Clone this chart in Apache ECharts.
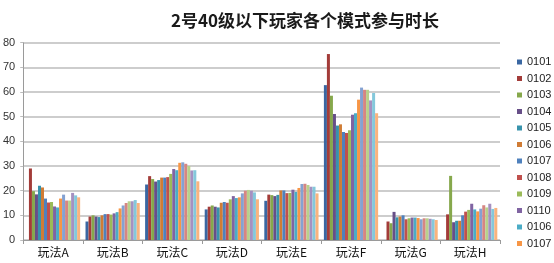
<!DOCTYPE html>
<html>
<head>
<meta charset="utf-8">
<script src="https://cdn.jsdelivr.net/npm/echarts@6/dist/echarts.min.js"></script>
<style>html,body{margin:0;padding:0;background:#fff}#c{width:554px;height:263px}</style>
</head>
<body>
<div id="c"></div>
<script>
const categories = ['玩法A','玩法B','玩法C','玩法D','玩法E','玩法F','玩法G','玩法H'];
const yTicks = [0,10,20,30,40,50,60,70,80];
const legendLabels = ['0101','0102','0103','0104','0105','0106','0107','0108','0109','0110','0106','0107'];
const s01 = [null, 7.5, 22.5, 12.4, 15.9, 62.8, null, null];
const s02 = [29.0, 9.5, 25.9, 13.5, 18.4, 75.4, 7.5, 10.4];
const s03 = [19.8, 10.0, 24.7, 14.0, 18.2, 58.5, 6.8, 26.0];
const s04 = [18.5, 9.5, 23.7, 13.5, 17.8, 51.1, 11.4, 7.2];
const s05 = [22.0, 9.3, 24.3, 13.2, 18.3, 46.4, 9.2, 7.8];
const s06 = [21.3, 10.0, 25.3, 15.1, 20.1, 46.9, 9.5, 7.8];
const s07 = [16.8, 10.5, 25.3, 15.4, 20.1, 43.8, 10.0, 10.0];
const s08 = [15.2, 10.5, 25.5, 15.1, 19.0, 43.4, 8.4, 11.5];
const s09 = [15.4, 10.3, 26.8, 16.5, 19.1, 44.5, 8.8, 12.2];
const s10 = [13.6, 10.8, 28.8, 17.8, 20.4, 50.8, 9.1, 14.7];
const s11 = [13.2, 11.3, 28.3, 17.0, 19.5, 51.4, 9.1, 12.4];
const s12 = [16.8, 12.8, 31.3, 17.3, 21.1, 56.9, 8.9, 11.6];
const s13 = [18.4, 14.0, 31.5, 18.9, 22.7, 61.8, 8.4, 12.7];
const s14 = [16.0, 15.0, 30.9, 20.0, 22.8, 60.9, 8.8, 14.1];
const s15 = [16.0, 15.7, 30.0, 20.3, 22.3, 60.9, 8.8, 13.2];
const s16 = [19.1, 15.7, 28.2, 20.0, 21.6, 56.6, 8.6, 14.7];
const s17 = [18.1, 16.2, 28.3, 19.3, 21.6, 59.6, 8.4, 12.6];
const s18 = [17.3, 15.0, 23.8, 16.5, 18.9, 51.4, 8.1, 13.0];
const seriesData = [s01,s02,s03,s04,s05,s06,s07,s08,s09,s10,s11,s12,s13,s14,s15,s16,s17,s18];
const colors = ['#3A67A2','#A33C39','#86A84C','#674F88','#3893AC','#D07C35',
                '#4F81BD','#C0504D','#9BBB59','#8064A2','#4BACC6','#F79646',
                '#84A2D2','#D68683','#B8D18B','#A591C1','#84C8DB','#F9B37E'];
const keys = seriesData.map((_, i) => 'k' + (i + 1));

const chart = echarts.init(document.getElementById('c'));
chart.setOption({
  animation: false,
  color: colors,
  title: {
    text: '2号40级以下玩家各个模式参与时长',
    left: 166, top: 7,
    textStyle: { fontFamily: 'Noto Sans CJK SC', fontSize: 17, fontWeight: 'bold', color: '#1a1a1a' }
  },
  legend: {
    orient: 'vertical',
    left: 512, top: 51,
    itemWidth: 5, itemHeight: 5, itemGap: 4.5,
    icon: 'rect',
    data: keys.slice(0, 12),
    formatter: function (n) { return legendLabels[keys.indexOf(n)]; },
    textStyle: { fontFamily: 'Liberation Sans', fontSize: 11, color: '#222', lineHeight: 12 }
  },
  grid: { left: 22, right: 54, top: 42.7, bottom: 23, containLabel: false },
  xAxis: {
    type: 'category',
    data: categories,
    axisLine: { lineStyle: { color: '#9a9a9a' } },
    axisTick: { show: true, length: 4, lineStyle: { color: '#9a9a9a' } },
    axisLabel: { fontFamily: 'Noto Sans CJK SC', fontSize: 12, color: '#111', margin: 6 }
  },
  yAxis: {
    type: 'value',
    min: yTicks[0], max: yTicks[yTicks.length - 1], interval: 10,
    axisLine: { show: true, lineStyle: { color: '#9a9a9a' } },
    axisTick: { show: true, length: 3, lineStyle: { color: '#bdbdbd' } },
    axisLabel: { fontFamily: 'Liberation Sans', fontSize: 11, color: '#333', margin: 8 },
    splitLine: { lineStyle: { color: '#bdbdbd', width: 1.5 } }
  },
  series: seriesData.map((d, i) => ({
    name: keys[i],
    type: 'bar',
    data: d,
    barGap: '0%',
    barCategoryGap: '9%',
    itemStyle: { color: colors[i] }
  }))
});
</script>
</body>
</html>
